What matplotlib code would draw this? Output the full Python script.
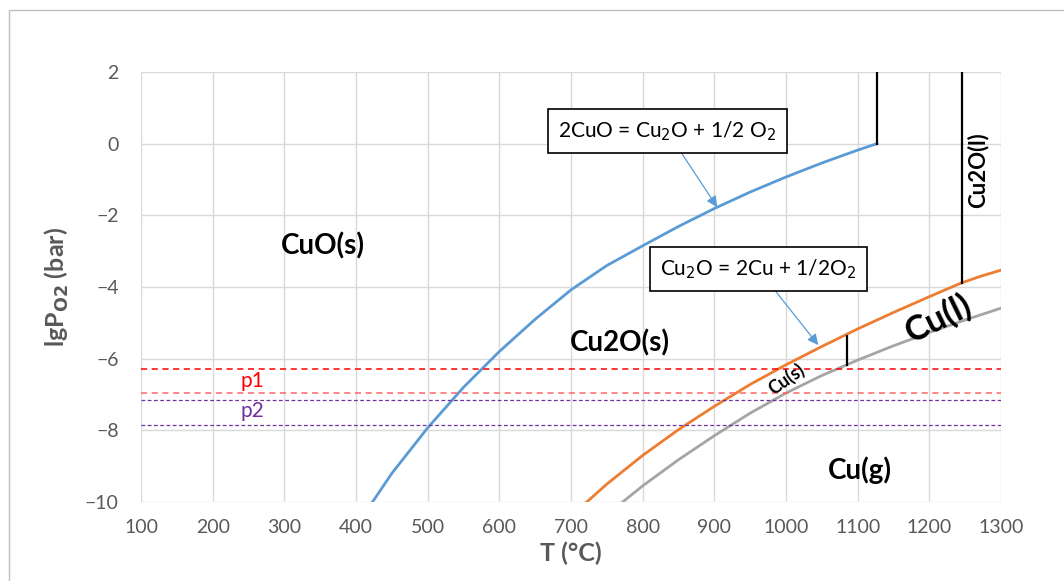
import matplotlib
matplotlib.use("Agg")
import matplotlib.pyplot as plt
from matplotlib.patches import Rectangle

plt.rcParams["font.family"] = ["Lato", "DejaVu Sans"]

# CuO / Cu2O equilibrium
T_cuo = [423, 450, 500, 550, 600, 650, 700, 750, 800, 850, 900, 950, 1000, 1050, 1100, 1127]
p_cuo = [-10, -9.2, -7.93, -6.8, -5.8, -4.9, -4.08, -3.4, -2.85, -2.31, -1.81, -1.35, -0.93, -0.54, -0.18, 0]

# Cu2O / Cu equilibrium
T_cu2o = [722, 750, 800, 850, 900, 950, 1000, 1050, 1100, 1150, 1200, 1243, 1270, 1300]
p_cu2o = [-10, -9.5, -8.7, -7.98, -7.33, -6.72, -6.17, -5.66, -5.17, -4.71, -4.27, -3.9, -3.71, -3.53]

# Cu vapour
T_cug = [772, 800, 850, 900, 950, 1000, 1050, 1085, 1100, 1150, 1200, 1250, 1300]
p_cug = [-10, -9.55, -8.82, -8.15, -7.52, -6.96, -6.47, -6.17, -6.04, -5.64, -5.27, -4.92, -4.59]

# phase boundaries (vertical)
v_lines = [(1127, 0, 2), (1245, -3.89, 2), (1085, -6.17, -5.36)]

p1_levels = [-6.3, -6.95]
p2_levels = [-7.15, -7.85]

xticks = list(range(100, 1301, 100))
yticks = list(range(-10, 3, 2))

fig = plt.figure(figsize=(10.64, 5.81), dpi=100)
fig.patches.append(Rectangle((9 / 1064, -0.1), 1.2, 1 - 10 / 581 + 0.1,
                             transform=fig.transFigure, fill=False,
                             edgecolor="#BFBFBF", linewidth=1))
ax = fig.add_axes([141 / 1064, 1 - 502 / 581, 860 / 1064, 430 / 581])

ax.set_xlim(100, 1300)
ax.set_ylim(-10, 2)
ax.set_xticks(xticks)
ax.set_yticks(yticks)
ax.grid(True, color="#D9D9D9", linewidth=1)
ax.set_axisbelow(True)
for s in ax.spines.values():
    s.set_visible(False)
ax.tick_params(length=0, labelsize=14, colors="#595959")
ax.tick_params(axis="x", pad=12)
ax.tick_params(axis="y", pad=16)

ax.plot(T_cuo, p_cuo, color="#5B9BD5", linewidth=2)
ax.plot(T_cu2o, p_cu2o, color="#ED7D31", linewidth=2)
ax.plot(T_cug, p_cug, color="#A5A5A5", linewidth=2)
for x, y0, y1 in v_lines:
    ax.plot([x, x], [y0, y1], color="black", linewidth=1.6)

ax.axhline(p1_levels[0], color="#FF0000", linestyle=(0, (4, 3)), linewidth=1.1)
ax.axhline(p1_levels[1], color="#FF6666", linestyle=(0, (4, 3)), linewidth=1.1)
for y in p2_levels:
    ax.axhline(y, color="#7030A0", linestyle=(0, (3, 2)), linewidth=0.9)

ax.text(256, -6.63, "p1", color="#FF0000", fontsize=15, ha="center", va="center")
ax.text(256, -7.45, "p2", color="#7030A0", fontsize=15, ha="center", va="center")

lbl = dict(fontweight="bold", ha="center", va="center", color="black")
ax.text(354, -2.86, "CuO(s)", fontsize=20, **lbl)
ax.text(768, -5.55, "Cu2O(s)", fontsize=20, **lbl)
ax.text(1103, -9.1, "Cu(g)", fontsize=20, **lbl)
ax.text(1213, -4.88, "Cu(l)", fontsize=25, rotation=26, **lbl)
ax.text(1001, -6.58, "Cu(s)", fontsize=13, rotation=35, **lbl)
ax.text(1268, -0.73, "Cu2O(l)", fontsize=16, rotation=90, **lbl)

box = dict(boxstyle="square,pad=0.5", facecolor="white", edgecolor="black", linewidth=1.2)
arr = dict(arrowstyle="-|>", color="#5B9BD5", lw=0.9, mutation_scale=16, shrinkA=0, shrinkB=0)
ax.annotate("2CuO = Cu$_2$O + 1/2 O$_2$", xy=(904, -1.77), xytext=(834, 0.35),
            fontsize=15, ha="center", va="center", bbox=box, arrowprops=arr)
ax.annotate("Cu$_2$O = 2Cu + 1/2O$_2$", xy=(1045, -5.62), xytext=(961, -3.5),
            fontsize=15, ha="center", va="center", bbox=box, arrowprops=arr)

ax.set_xlabel("T (°C)", fontsize=18, fontweight="bold", color="#595959", labelpad=4)
ax.set_ylabel("lgP$_{\\mathbf{O2}}$ (bar)", fontsize=18, fontweight="bold", color="#595959", labelpad=10)

fig.savefig("out.png", dpi=100)
